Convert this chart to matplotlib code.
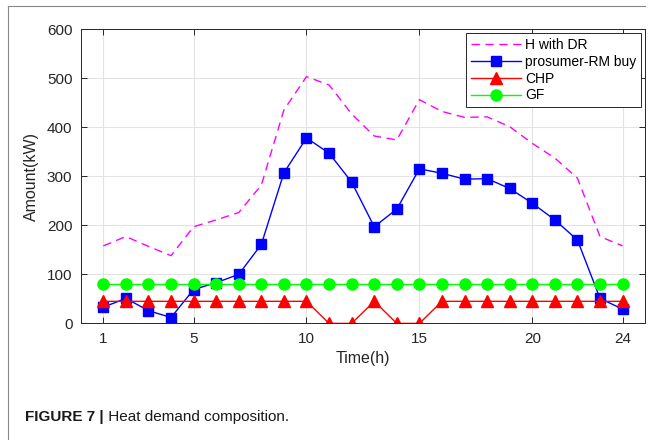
import matplotlib
matplotlib.use('Agg')
import matplotlib.pyplot as plt
from matplotlib.lines import Line2D

# hourly values
hours = list(range(1, 25))
h_with_dr = [158, 177, 157, 138, 197, 211, 226, 282, 435, 503, 486, 427,
             382, 374, 456, 432, 420, 421, 401, 367, 337, 296, 177, 158]
rm_buy = [33, 51, 26, 12, 69, 83, 100, 161, 307, 378, 347, 288,
          197, 233, 315, 306, 294, 295, 275, 245, 211, 170, 51, 29]
chp = [45, 45, 45, 45, 45, 45, 45, 45, 45, 45, 0, 0,
       45, 0, 0, 45, 45, 45, 45, 45, 45, 45, 45, 45]
gf = [80] * 24
xticks = [1, 5, 10, 15, 20, 24]
caption_bold = 'FIGURE 7 |'
caption_text = ' Heat demand composition.'

plt.rcParams['font.family'] = ['Liberation Sans', 'DejaVu Sans']

fig = plt.figure(figsize=(6.53, 4.4), dpi=100)
ax = fig.add_axes([0.1236, 0.265, 0.8644, 0.669])

ax.plot(hours, h_with_dr, '--', color='#FF00FF', lw=1, dashes=(6, 4), label='H with DR')
ax.plot(hours, rm_buy, '-s', color='#0000FF', lw=1, ms=7, label='prosumer-RM buy')
ax.plot(hours, chp, '-^', color='#FF0000', lw=1, ms=8.5, label='CHP')
ax.plot(hours, gf, '-o', color='#00FF00', lw=1, ms=8, label='GF')

ax.set_xlim(0, 25)
ax.set_ylim(0, 600)
ax.set_xticks(xticks)
ax.set_yticks(range(0, 601, 100))
ax.grid(True, color='#e3e3e3', lw=0.8)
ax.set_axisbelow(True)
ax.tick_params(direction='in', top=True, right=True, length=4, width=0.7,
               labelsize=11, labelcolor='#262626', color='#262626', pad=6)
for s in ax.spines.values():
    s.set_color('#262626')
    s.set_linewidth(0.7)
ax.set_xlabel('Time(h)', fontsize=11.5, color='#262626', labelpad=4)
ax.set_ylabel('Amount(kW)', fontsize=11.5, color='#262626', labelpad=6)

leg = ax.legend(loc='upper right', fontsize=10, handlelength=3.6, labelspacing=0.2,
                borderaxespad=0.3, fancybox=False, framealpha=1, borderpad=0.35,
                handletextpad=0.3)
leg.get_frame().set_edgecolor('#262626')
leg.get_frame().set_linewidth(0.7)

# outer frame of the figure panel: left and top edges only
x0, x1, ytop = 8 / 653, 645 / 653, 1 - 6 / 440
fig.add_artist(Line2D([x0, x0], [0, ytop], transform=fig.transFigure, color='#888888', lw=0.8))
fig.add_artist(Line2D([x0, x1], [ytop, ytop], transform=fig.transFigure, color='#888888', lw=0.8))

t = fig.text(25 / 653, 1 - 417 / 440, caption_bold, fontsize=11, fontweight='bold',
             va='center', ha='left', color='#1a1a1a')
fig.canvas.draw()
bb = t.get_window_extent()
fig.text(bb.x1 / 653, 1 - 417 / 440, caption_text, fontsize=11, va='center',
         ha='left', color='#1a1a1a')

fig.savefig('out.png', dpi=100)
